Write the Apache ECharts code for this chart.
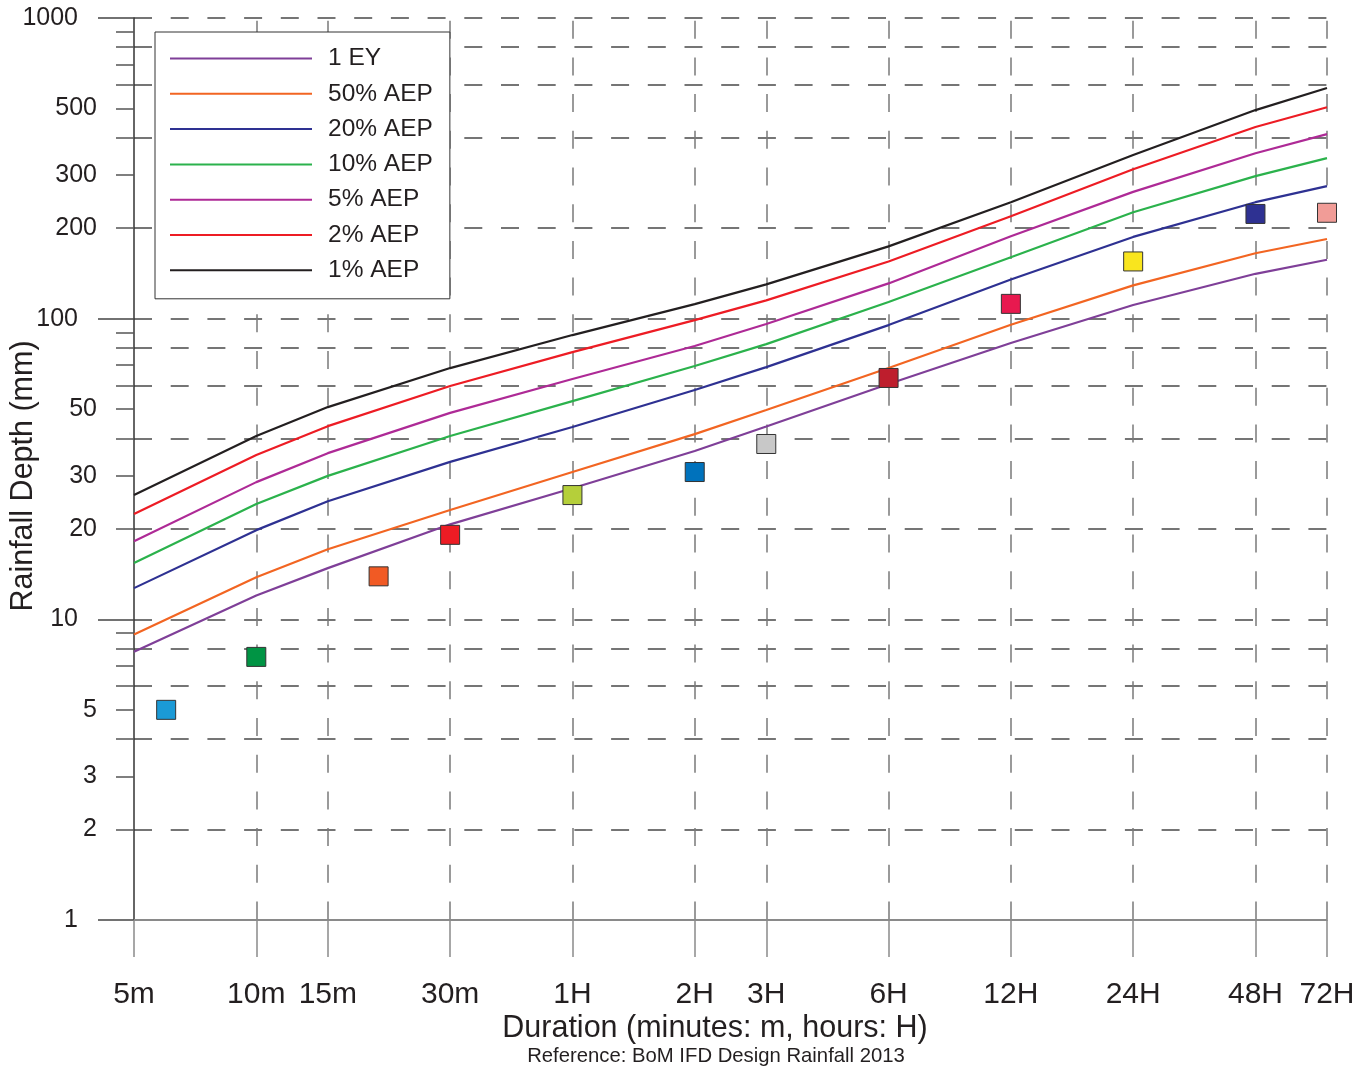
<!DOCTYPE html>
<html><head><meta charset="utf-8">
<script src="https://cdn.jsdelivr.net/npm/echarts@6/dist/echarts.min.js"></script>
<style>html,body{margin:0;padding:0;background:#fff}#c{width:1372px;height:1071px}</style>
</head><body><div id="c"></div>
<script>
// ---- data ----
const durations = [5, 10, 15, 30, 60, 120, 180, 360, 720, 1440, 2880, 4320];
const durationLabels = ['5m', '10m', '15m', '30m', '1H', '2H', '3H', '6H', '12H', '24H', '48H', '72H'];
const seriesNames = ['1 EY', '50% AEP', '20% AEP', '10% AEP', '5% AEP', '2% AEP', '1% AEP'];
const ey1   = [7.8, 12.0, 14.8, 20.7, 27.3, 36.3, 43.8, 60.6, 83.0, 111, 141, 157];
const aep50 = [8.9, 13.8, 17.1, 23.1, 30.9, 41.3, 49.7, 68.5, 95.5, 129, 165, 184];
const aep20 = [12.7, 19.8, 24.7, 33.4, 43.6, 57.9, 69.0, 95.2, 135, 187, 244, 276];
const aep10 = [15.4, 24.2, 30.0, 40.7, 53.2, 69.6, 82.3, 113.6, 160, 226, 298, 342];
const aep5  = [18.2, 28.6, 35.7, 48.6, 63.0, 81.1, 96.0, 131, 188, 264, 355, 411];
const aep2  = [22.4, 35.2, 43.9, 59.7, 77.4, 98.9, 115, 155, 219, 314, 434, 505];
const aep1  = [25.9, 40.7, 50.8, 68.5, 88.2, 111.8, 130, 174, 244, 350, 494, 585];
const obsDurations = [6, 10, 20, 30, 60, 120, 180, 360, 720, 1440, 2880, 4320];
const obsDepths    = [5.0, 7.5, 13.9, 19.1, 25.9, 30.9, 38.3, 63.5, 112, 155, 223, 225];
const yMajorTicks = [1, 10, 100, 1000];
const yMinorTicks = [2, 3, 4, 5, 6, 7, 8, 9, 20, 30, 40, 50, 60, 70, 80, 90, 200, 300, 400, 500, 600, 700, 800, 900];
const yMinorLabels = [2, 3, 5, 20, 30, 50, 200, 300, 500];
const yGridValues = [2, 4, 6, 8, 10, 20, 40, 60, 80, 100, 200, 400, 600, 800, 1000];

// ---- styles ----
const lineColors = ['#7f3f98', '#f26522', '#2e3192', '#2bb24c', '#ae2a96', '#ed1c24', '#231f20'];
const markerColors = ['#1b9ad6', '#009444', '#f15a24', '#ed1c24', '#b5cf3a', '#0072bc', '#c8c8c8', '#be1e2d', '#e8194f', '#f9e51e', '#2e3192', '#f19c97'];
const FONT = '"Liberation Sans", Arial, Helvetica, sans-serif';
const TXT = '#231f20';

const lineData = [ey1, aep50, aep20, aep10, aep5, aep2, aep1];

function durLabel(v) {
  let best = 0, bd = Infinity;
  durations.forEach((d, i) => { const dd = Math.abs(Math.log(d) - Math.log(v)); if (dd < bd) { bd = dd; best = i; } });
  return durationLabels[best];
}
const yFmt = v => String(Math.round(v));
const yBase = { type: 'log', logBase: 10, min: 1, max: 1000, position: 'left', gridIndex: 0 };
const xBase = { type: 'log', logBase: 10, min: 5, max: 4320, position: 'bottom', gridIndex: 0 };

const series = lineData.map((arr, i) => ({
  name: seriesNames[i],
  type: 'line',
  xAxisIndex: 0, yAxisIndex: 0,
  data: durations.map((d, j) => [d, arr[j]]),
  symbol: 'none',
  showSymbol: false,
  lineStyle: { color: lineColors[i], width: 2.2 },
  itemStyle: { color: lineColors[i] },
  z: 3
}));
series.push({
  type: 'scatter',
  xAxisIndex: 0, yAxisIndex: 0,
  symbol: 'rect',
  symbolSize: 19,
  data: obsDurations.map((d, j) => ({ value: [d, obsDepths[j]], itemStyle: { color: markerColors[j], opacity: 1 } })),
  itemStyle: { borderColor: '#333', borderWidth: 1, opacity: 1 },
  z: 4
});

const chart = echarts.init(document.getElementById('c'), null, { renderer: 'canvas' });
chart.setOption({
  animation: false,
  backgroundColor: '#fff',
  grid: { left: 134, right: 45, top: 18, bottom: 151, containLabel: false, outerBoundsMode: 'none' },
  legend: {
    data: seriesNames,
    orient: 'vertical',
    left: 155, top: 32,
    icon: 'rect',
    itemWidth: 142, itemHeight: 2, itemGap: 10.3,
    padding: [14, 17, 16, 15],
    backgroundColor: '#fff',
    borderColor: '#333', borderWidth: 1,
    itemStyle: { borderWidth: 0 },
    textStyle: { fontSize: 24.5, color: TXT, fontFamily: FONT, padding: [0, 0, 0, 11] }
  },
  xAxis: [
    Object.assign({}, xBase, {
      axisLine: { show: true, onZero: false, lineStyle: { color: '#8a8a8a', width: 2 } },
      axisTick: { show: true, customValues: durations, length: 37, lineStyle: { color: '#8a8a8a', width: 1.5 } },
      axisLabel: { customValues: durations, formatter: durLabel, margin: 60, fontSize: 30, color: TXT, fontFamily: FONT, showMinLabel: true, showMaxLabel: true },
      splitLine: { show: false }, minorTick: { show: false }, minorSplitLine: { show: false }
    }),
    Object.assign({}, xBase, {
      axisLine: { show: false },
      axisTick: { show: false, customValues: durations.slice(1) },
      axisLabel: { show: false },
      splitLine: { show: true, lineStyle: { type: [18, 18.7], dashOffset: 34, color: '#7a7a7a', width: 1.5 } }
    })
  ],
  yAxis: [
    Object.assign({}, yBase, {
      axisLine: { show: true, onZero: false, lineStyle: { color: '#333', width: 1.5 } },
      axisTick: { show: true, customValues: yMajorTicks, length: 36, lineStyle: { color: '#444', width: 1.5 } },
      axisLabel: { customValues: yMajorTicks, formatter: yFmt, margin: 56, fontSize: 25, color: TXT, fontFamily: FONT, showMinLabel: true, showMaxLabel: true, padding: [6, 0, 0, 0] },
      splitLine: { show: false }, minorTick: { show: false }
    }),
    Object.assign({}, yBase, {
      axisLine: { show: false },
      axisTick: { show: true, customValues: yMinorTicks, length: 18, lineStyle: { color: '#555', width: 1.5 } },
      axisLabel: { customValues: yMinorLabels, formatter: yFmt, margin: 37, fontSize: 25, color: TXT, fontFamily: FONT, padding: [4, 0, 0, 0] },
      splitLine: { show: false }
    }),
    Object.assign({}, yBase, {
      axisLine: { show: false },
      axisTick: { show: false, customValues: yGridValues },
      axisLabel: { show: false },
      splitLine: { show: true, lineStyle: { type: [18, 18.7], color: '#484848', width: 1.5 } }
    })
  ],
  graphic: [
    { type: 'text', x: 24, y: 476, rotation: Math.PI / 2,
      style: { text: 'Rainfall Depth (mm)', font: '30.5px ' + FONT, fill: TXT, align: 'center', verticalAlign: 'middle' } },
    { type: 'text', x: 715, y: 1029,
      style: { text: 'Duration (minutes: m, hours: H)', font: '30.5px ' + FONT, fill: TXT, align: 'center', verticalAlign: 'middle' } },
    { type: 'text', x: 716, y: 1056,
      style: { text: 'Reference: BoM IFD Design Rainfall 2013', font: '20.3px ' + FONT, fill: TXT, align: 'center', verticalAlign: 'middle' } }
  ],
  series: series
});
</script>
</body></html>
